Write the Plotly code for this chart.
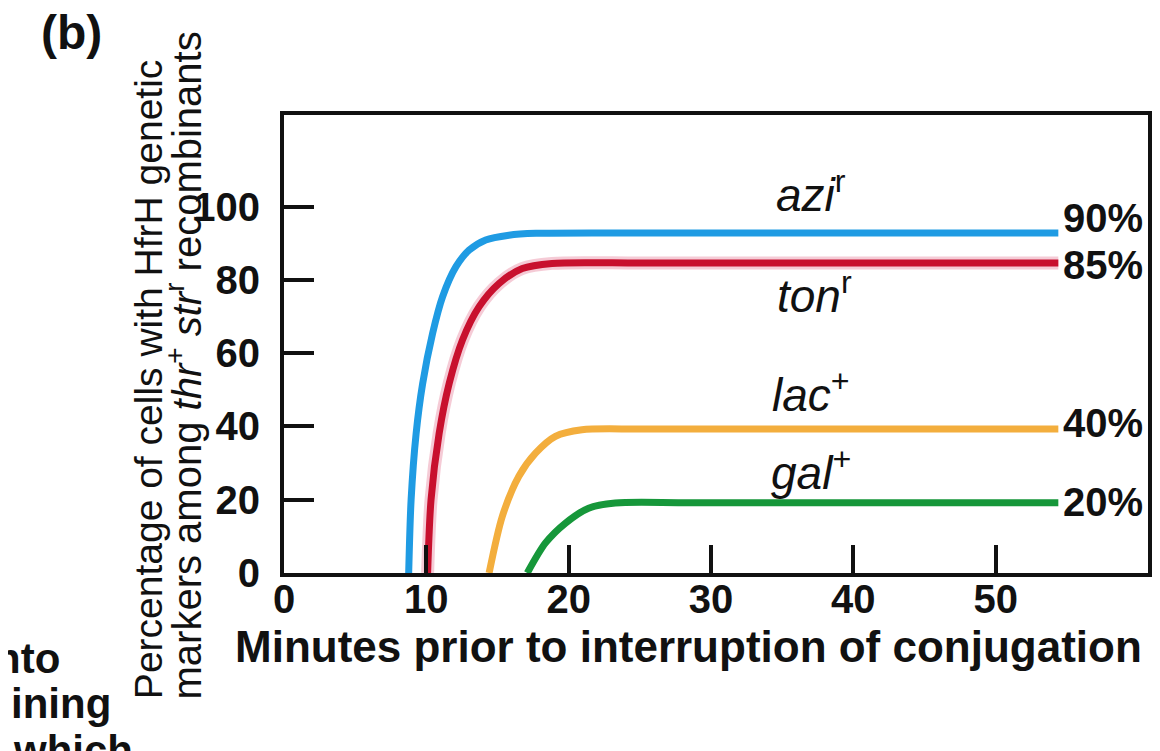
import plotly.graph_objects as go

# ---- data (minutes, percent) ----
azi_x = [8.76, 8.93, 9.28, 9.74, 10.44, 11.14, 12.08, 13.0, 14.17, 15.8, 17.7, 25, 35, 45, 54.4]
azi_y = [0, 20, 38, 51.7, 65.4, 75.4, 83.6, 88.1, 90.9, 92.2, 92.7, 92.8, 92.8, 92.8, 92.8]
ton_x = [10.09, 10.33, 10.9, 11.61, 12.54, 13.71, 15.1, 16.74, 18.83, 25, 35, 45, 54.4]
ton_y = [0, 20, 38.1, 51.8, 63.6, 72.7, 79, 83.1, 84.5, 84.6, 84.6, 84.6, 84.6]
lac_x = [14.41, 15.34, 16.5, 17.67, 19.07, 20.93, 25, 35, 45, 54.4]
lac_y = [0, 15.5, 26.4, 32.7, 37.3, 39.1, 39.3, 39.3, 39.3, 39.3]
gal_x = [17.09, 18.37, 19.77, 21.4, 23.27, 28, 35, 45, 54.4]
gal_y = [0, 8.2, 13.6, 17.7, 19.1, 19.2, 19.2, 19.2, 19.2]

marker_names = ["<i>azi</i><sup>r</sup>", "<i>ton</i><sup>r</sup>",
                "<i>lac</i><sup>+</sup>", "<i>gal</i><sup>+</sup>"]
final_pct = ["90%", "85%", "40%", "20%"]
x_ticks = [0, 10, 20, 30, 40, 50]
y_ticks = [0, 20, 40, 60, 80, 100]

colors = ["#1f9be3", "#c8102e", "#f3ae3d", "#16973a"]

# ---- label positions (data coords) ----
name_pos = [(37.0, 104.0), (37.3, 76.5), (37.0, 49.3), (37.0, 28.0)]
pct_pos = [(54.6, 97.0), (54.6, 84.0), (54.6, 41.0), (54.6, 19.4)]

FONT = "Liberation Sans"

# the page has an 8px body margin, so the figure is offset by 8px
OFF = 8
W, H = 1160 - OFF, 751 - OFF
# plot area in page pixels
L, R, T, B = 284, 1152, 115, 573

def px_x(p):
    return (p - L) / (R - L)

def px_y(p):
    return (B - p) / (B - T)

fig = go.Figure()
# faint pink fringe around the red curve, as in the reference
fig.add_trace(go.Scatter(x=ton_x, y=ton_y, mode="lines",
                         line=dict(color="rgba(236,160,180,0.55)", width=13, shape="spline",
                                   smoothing=0.8),
                         showlegend=False, hoverinfo="skip"))
for xs, ys, c in zip([azi_x, ton_x, lac_x, gal_x], [azi_y, ton_y, lac_y, gal_y], colors):
    fig.add_trace(go.Scatter(x=xs, y=ys, mode="lines",
                             line=dict(color=c, width=7, shape="spline", smoothing=0.8),
                             showlegend=False, hoverinfo="skip"))

ann = []
for t, (x, y) in zip(marker_names, name_pos):
    ann.append(dict(x=x, y=y, xref="x", yref="y", text=t, showarrow=False,
                    xanchor="center", yanchor="middle",
                    font=dict(family=FONT, size=46, color="#111")))
for t, (x, y) in zip(final_pct, pct_pos):
    ann.append(dict(x=x, y=y, xref="x", yref="y", text=t, showarrow=False,
                    xanchor="left", yanchor="middle",
                    font=dict(family=FONT, size=40, color="#111", weight="bold")))

ann.append(dict(x=px_x(690), y=px_y(646), xref="paper", yref="paper",
                text="Minutes prior to interruption of conjugation", showarrow=False,
                xanchor="center", yanchor="middle",
                font=dict(family=FONT, size=44, color="#111", weight="bold")))
ann.append(dict(x=px_x(148), y=px_y(701), xref="paper", yref="paper",
                text="Percentage of cells with HfrH genetic", showarrow=False,
                textangle=-90, xanchor="center", yanchor="bottom",
                font=dict(family=FONT, size=39, color="#111")))
ann.append(dict(x=px_x(184), y=px_y(701), xref="paper", yref="paper",
                text="markers among <i>thr</i><sup>+</sup> <i>str</i><sup>r</sup> recombinants",
                showarrow=False, textangle=-90, xanchor="center", yanchor="bottom",
                font=dict(family=FONT, size=40, color="#111")))
ann.append(dict(x=px_x(38), y=px_y(33), xref="paper", yref="paper", text="(b)",
                showarrow=False, xanchor="left", yanchor="middle",
                font=dict(family=FONT, size=48, color="#111", weight="bold")))
for t, xa, xp, yp in [("nto", "right", 61, 658), ("ining", "right", 112, 703),
                      ("which", "left", 10, 750)]:
    ann.append(dict(x=px_x(xp), y=px_y(yp), xref="paper", yref="paper", text=t,
                    showarrow=False, xanchor=xa, yanchor="middle",
                    font=dict(family=FONT, size=42, color="#111", weight="bold")))

fig.update_layout(
    width=W, height=H,
    margin=dict(l=L - OFF, r=W - (R - OFF), t=T - OFF, b=H - (B - OFF), pad=0),
    paper_bgcolor="white", plot_bgcolor="white",
    annotations=ann,
    xaxis=dict(range=[0, 60.7], tickvals=x_ticks, ticks="inside", ticklen=28, tickwidth=4,
               tickcolor="#111", showline=True, linewidth=4, linecolor="#111", mirror=True,
               showgrid=False, zeroline=False, ticklabelstandoff=-12,
               tickfont=dict(family=FONT, size=40, color="#111", weight="bold")),
    yaxis=dict(range=[0, 125], tickvals=y_ticks, ticks="inside", ticklen=30, tickwidth=4,
               tickcolor="#111", showline=True, linewidth=4, linecolor="#111", mirror=True,
               showgrid=False, zeroline=False, ticklabelstandoff=12,
               tickfont=dict(family=FONT, size=40, color="#111", weight="bold")),
)

fig.write_html("out.html")
